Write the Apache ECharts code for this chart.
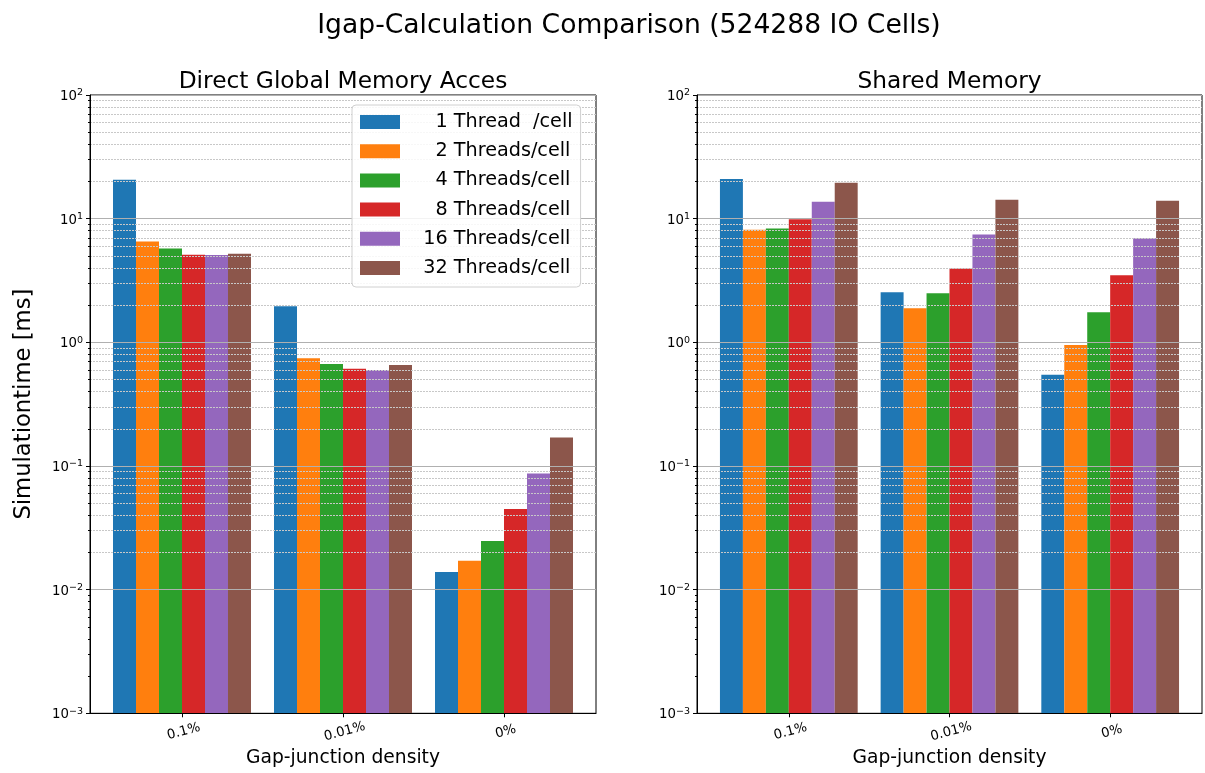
<!DOCTYPE html>
<html>
<head>
<meta charset="utf-8">
<title>Igap-Calculation Comparison</title>
<script src="https://cdn.jsdelivr.net/npm/echarts@6/dist/echarts.min.js"></script>
<style>
  html, body { margin: 0; padding: 0; background: #ffffff; }
  #chart { width: 1205px; height: 773px; }
</style>
</head>
<body>
<div id="chart"></div>
<script>
// Gap-junction densities on the x axis
const categories = ['0.1%', '0.01%', '0%'];

// Legend / series names (threads per cell)
const seriesNames = [
  '1 Thread  /cell',
  '2 Threads/cell',
  '4 Threads/cell',
  '8 Threads/cell',
  '16 Threads/cell',
  '32 Threads/cell'
];

// Simulation time [ms], direct global memory access
const global1  = [20.6, 1.96, 0.0139];
const global2  = [6.53, 0.743, 0.0171];
const global4  = [5.74, 0.669, 0.0247];
const global8  = [5.10, 0.610, 0.0448];
const global16 = [5.08, 0.598, 0.0871];
const global32 = [5.20, 0.656, 0.170];

// Simulation time [ms], shared memory
const shared1  = [20.9, 2.54, 0.546];
const shared2  = [8.15, 1.89, 0.951];
const shared4  = [8.31, 2.49, 1.75];
const shared8  = [9.88, 3.96, 3.48];
const shared16 = [13.7, 7.43, 6.95];
const shared32 = [19.5, 14.2, 13.96];

// Log axis range and minor grid positions (2..9 x each decade)
const yMin = 0.001;
const yMax = 100;
const minorGrid = [];
for (let e = -3; e <= 1; e++) {
  for (let m = 2; m <= 9; m++) minorGrid.push(m * Math.pow(10, e));
}

const colors = ['#1f77b4', '#ff7f0e', '#2ca02c', '#d62728', '#9467bd', '#8c564b'];
const FONT = 'DejaVu Sans';

const globalSets = [global1, global2, global4, global8, global16, global32];
const sharedSets = [shared1, shared2, shared4, shared8, shared16, shared32];

function supLabel(v) {
  const e = Math.round(Math.log10(v));
  const s = e < 0 ? '\u2212' + (-e) : String(e);
  return '{b|10}{s|' + s + '}';
}

function makeXAxis(idx) {
  return {
    type: 'value',
    gridIndex: idx,
    min: -4 / 7,
    max: 18 / 7,
    z: 6,
    name: 'Gap-junction density',
    nameLocation: 'middle',
    nameGap: 31,
    nameTextStyle: { fontSize: 18.7, color: '#000', fontFamily: FONT },
    axisLine: { show: true, onZero: false, lineStyle: { color: '#000', width: 1 } },
    axisTick: { show: true, length: 4, customValues: [0, 1, 2], lineStyle: { color: '#000' } },
    axisLabel: {
      customValues: [0, 1, 2],
      formatter: v => categories[Math.round(v)],
      rotate: 15,
      align: 'center',
      verticalAlign: 'top',
      margin: 12,
      fontSize: 13.3,
      color: '#000',
      fontFamily: FONT
    },
    splitLine: { show: false }
  };
}

function makeYAxis(idx, withName) {
  const ax = {
    type: 'log',
    logBase: 10,
    gridIndex: idx,
    min: yMin,
    max: yMax,
    startValue: yMin,
    z: 6,
    axisLine: { show: true, onZero: false, lineStyle: { color: '#000', width: 1 } },
    axisTick: { show: true, length: 4, lineStyle: { color: '#000' } },
    minorTick: { show: true, splitNumber: 9, length: 2, lineStyle: { color: '#000' } },
    axisLabel: {
      formatter: supLabel,
      margin: 7,
      padding: [3, 0, 0, 0],
      color: '#000',
      rich: {
        b: { fontSize: 13.3, lineHeight: 17, fontFamily: FONT, color: '#000' },
        s: { fontSize: 9.5, lineHeight: 10, verticalAlign: 'top', fontFamily: FONT, color: '#000' }
      }
    },
    splitLine: { show: true, lineStyle: { color: '#b0b0b0', width: 1, type: 'solid' } },
    minorSplitLine: { show: false }
  };
  if (withName) {
    ax.name = 'Simulationtime [ms]';
    ax.nameLocation = 'middle';
    ax.nameGap = 54;
    ax.nameTextStyle = { fontSize: 22.7, color: '#000', fontFamily: FONT };
  }
  return ax;
}

function makeSeries(sets, idx) {
  return sets.map((vals, i) => {
    const s = {
      name: seriesNames[i],
      type: 'bar',
      xAxisIndex: idx,
      yAxisIndex: idx,
      barWidth: '14.2857%',
      barGap: '0%',
      itemStyle: { color: colors[i] },
      emphasis: { disabled: true },
      data: vals.map((v, k) => [k, v])
    };
    if (i === 0) {
      s.markLine = {
        silent: true,
        symbol: ['none', 'none'],
        label: { show: false },
        emphasis: { disabled: true },
        animation: false,
        lineStyle: { color: '#c8c8c8', width: 1, type: [2, 1] },
        data: minorGrid.map(v => ({ yAxis: v }))
      };
    }
    return s;
  });
}

// Right-align the thread count in the legend (a digit is two spaces wide)
function legendText(name) {
  const m = name.match(/^(\d+)(.*)$/);
  const pad = m[1].length === 1 ? '     ' : '   ';
  return pad + name;
}

const chart = echarts.init(document.getElementById('chart'), null, { renderer: 'canvas' });

chart.setOption({
  animation: false,
  backgroundColor: '#ffffff',
  color: colors,
  textStyle: { fontFamily: FONT },
  title: [
    {
      text: 'Igap-Calculation Comparison (524288 IO Cells)',
      left: 629, top: 10, padding: 0, textAlign: 'center',
      textStyle: { fontSize: 26.6, fontWeight: 'normal', color: '#000', fontFamily: FONT, lineHeight: 32 }
    },
    {
      text: 'Direct Global Memory Acces',
      left: 343, top: 68, padding: 0, textAlign: 'center',
      textStyle: { fontSize: 23.3, fontWeight: 'normal', color: '#000', fontFamily: FONT, lineHeight: 28 }
    },
    {
      text: 'Shared Memory',
      left: 949.5, top: 68, padding: 0, textAlign: 'center',
      textStyle: { fontSize: 23.3, fontWeight: 'normal', color: '#000', fontFamily: FONT, lineHeight: 28 }
    }
  ],
  legend: {
    orient: 'vertical',
    left: 352,
    top: 105,
    z: 10,
    padding: [7, 8, 9, 8],
    itemWidth: 40,
    itemHeight: 14,
    itemGap: 9.2,
    icon: 'rect',
    backgroundColor: 'rgba(255,255,255,0.85)',
    borderColor: '#d0d0d0',
    borderWidth: 1,
    borderRadius: 4,
    selectedMode: false,
    data: seriesNames,
    formatter: legendText,
    textStyle: {
      fontSize: 19.2,
      lineHeight: 20,
      color: '#000',
      fontFamily: FONT
    }
  },
  grid: [
    { left: 90, top: 95, width: 506, height: 621, show: true, borderColor: '#000', borderWidth: 1, backgroundColor: 'transparent' },
    { left: 697, top: 95, width: 505, height: 621, show: true, borderColor: '#000', borderWidth: 1, backgroundColor: 'transparent' }
  ],
  xAxis: [makeXAxis(0), makeXAxis(1)],
  yAxis: [makeYAxis(0, true), makeYAxis(1, false)],
  series: makeSeries(globalSets, 0).concat(makeSeries(sharedSets, 1))
});
</script>
</body>
</html>
